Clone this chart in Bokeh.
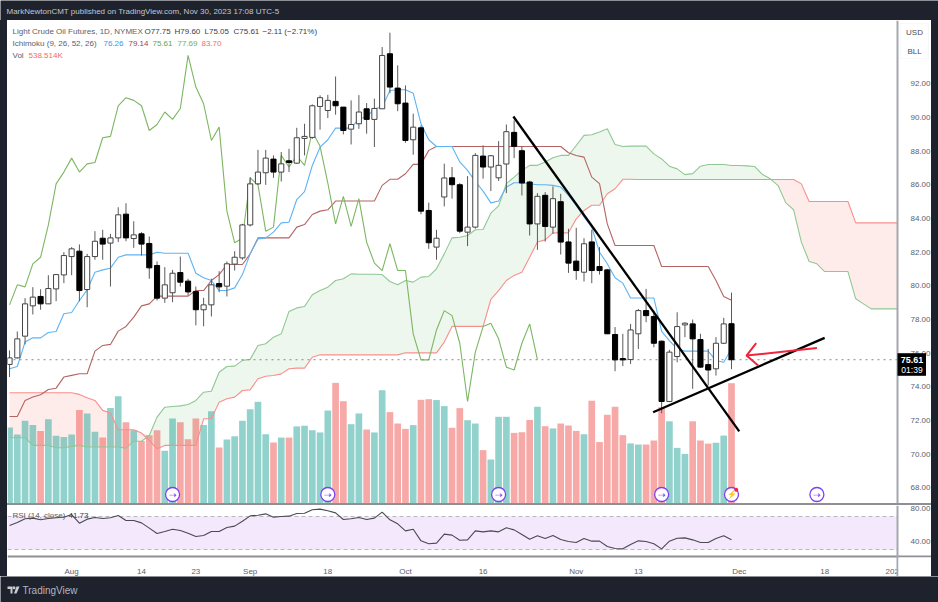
from bokeh.plotting import figure
from bokeh.layouts import column, row
from bokeh.models import (Range1d, FixedTicker, PrintfTickFormatter, Label,
                          BoxAnnotation, Div)
from bokeh.embed import file_html
from bokeh.resources import INLINE
import numpy as np

# ---------- data ----------
opens = [75.33,75.72,77.01,78.81,79.37,78.93,79.82,80.65,81.74,82.06,79.78,81.74,82.83,82.54,82.85,84.26,82.81,83.09,82.52,81.21,
         79.27,79.59,80.79,80.28,79.66,78.58,78.87,80.14,79.98,81.29,81.66,83.62,86.06,86.72,87.53,86.76,87.43,87.29,88.76,88.82,
         90.66,90.42,90.96,90.62,89.31,89.63,90.52,89.89,90.52,93.79,91.75,90.86,88.68,89.39,84.48,82.30,85.28,86.42,86.01,83.19,
         83.49,87.71,87.06,86.42,87.24,89.12,88.03,86.17,83.68,85.38,83.49,85.00,82.61,81.47,80.81,82.61,81.15,80.95,77.11,75.68,
         75.62,77.15,78.53,78.18,76.71,73.13,75.80,77.68,77.74,76.81,75.32,75.07,76.59,77.75]
highs = [76.16,77.29,79.27,79.92,79.80,80.63,80.67,82.00,82.30,82.46,81.90,83.25,83.33,83.09,84.67,84.91,83.84,83.19,82.93,81.45,
         81.11,80.95,81.74,80.42,79.96,79.29,80.42,80.87,81.45,82.06,83.68,86.46,88.08,88.08,87.75,87.95,88.14,89.39,89.63,90.78,
         91.32,91.35,92.44,90.62,91.02,91.33,90.86,91.12,94.19,95.04,93.10,91.91,90.23,89.53,84.94,83.33,87.26,87.06,86.10,86.52,
         87.89,88.35,87.77,88.60,89.59,89.83,88.29,86.24,85.51,85.57,85.91,85.47,83.39,83.45,82.83,83.33,82.30,81.01,77.55,77.15,
         77.74,78.63,79.82,78.53,76.75,76.20,78.43,77.84,78.00,77.15,76.25,76.95,78.10,79.60]
lows = [74.58,75.68,76.52,78.30,78.58,78.93,79.09,80.16,80.63,79.09,78.73,81.55,81.55,79.96,82.60,82.65,82.26,81.80,80.42,79.13,
        78.99,79.03,79.96,79.43,77.65,77.60,78.18,79.62,79.37,80.91,81.55,83.53,85.99,86.00,86.42,86.20,86.76,87.25,87.75,88.74,
        89.28,89.97,90.17,89.00,88.40,89.33,89.04,88.25,90.52,91.45,90.38,88.50,87.79,84.25,82.20,81.55,84.72,85.18,83.13,82.36,
        83.40,86.37,85.63,86.23,85.51,87.59,85.37,82.99,82.14,82.63,83.09,81.86,80.77,80.36,80.26,80.16,80.67,77.15,74.93,75.23,
        75.36,76.25,77.84,76.35,72.43,73.09,75.46,76.95,73.88,75.13,74.08,74.67,76.55,75.05]
closes = [75.72,76.85,78.93,79.33,78.93,79.84,80.67,81.80,82.20,79.72,81.74,82.65,82.48,82.85,84.22,82.85,83.03,82.48,81.07,79.27,
          80.06,80.75,80.22,79.64,78.58,78.87,80.06,79.94,81.31,81.70,83.62,86.06,86.76,87.59,86.76,87.25,87.33,88.80,88.88,90.70,
          91.18,91.02,90.70,89.23,89.59,90.33,89.89,90.54,93.69,91.81,90.82,88.64,89.43,84.44,82.56,82.83,86.41,86.01,83.25,83.49,
          87.75,87.06,87.73,87.16,89.16,88.29,86.11,83.68,85.32,83.53,85.18,82.60,81.35,80.91,82.50,80.91,80.91,77.15,75.60,75.60,
          77.38,78.53,78.23,76.59,73.13,76.06,77.58,77.78,76.85,75.17,75.00,76.59,77.74,75.61]
volumes = [340,309,370,351,325,377,303,298,309,418,403,321,295,427,480,364,328,280,306,328,
           236,380,364,288,380,351,413,251,286,301,370,422,455,310,273,295,295,345,348,328,
           318,416,540,458,355,403,331,318,507,409,358,334,351,464,467,463,436,339,427,373,
           358,239,197,388,388,316,319,374,433,346,336,358,349,325,310,460,275,397,433,306,
           269,264,264,282,431,368,249,222,368,282,268,272,304,538.5]
conversion = [75.07,75.21,76.66,76.91,76.91,77.23,77.29,78.34,78.42,79.13,79.76,80.81,80.95,81.05,81.70,81.84,81.84,81.84,81.84,82.00,
              81.94,81.94,81.94,81.94,80.75,80.48,80.32,79.72,79.72,79.88,80.67,81.90,82.79,82.85,83.19,83.74,83.78,85.13,85.60,87.15,
              88.24,88.68,89.37,89.37,89.37,89.93,90.03,90.52,90.62,91.61,91.65,91.65,91.45,89.63,88.68,88.28,88.28,88.28,87.36,86.86,
              86.20,85.63,84.93,85.04,85.87,86.13,86.13,86.07,86.01,86.01,85.97,85.87,85.37,84.78,84.09,83.49,82.00,81.31,80.48,80.16,
              79.28,79.28,79.28,79.28,77.30,76.75,76.25,76.12,76.12,76.12,76.12,75.56,75.46,76.26]
base = [72.24,72.24,73.19,73.39,73.53,73.84,73.92,74.58,74.68,74.78,74.78,76.12,76.46,76.52,77.31,77.59,78.14,78.81,78.93,79.39,
        79.39,79.39,79.39,79.39,79.72,79.72,80.32,80.67,81.27,81.27,81.27,81.90,82.85,82.85,82.85,82.85,82.85,83.49,83.64,84.24,
        84.44,84.52,85.04,85.04,85.04,85.04,85.04,85.04,85.97,86.33,86.33,86.66,87.22,87.22,88.05,88.28,88.28,88.28,88.28,88.28,
        88.28,88.28,88.28,88.28,88.28,88.28,88.28,88.28,88.28,88.28,88.28,88.28,87.91,87.75,87.65,86.46,86.07,83.68,82.40,82.40,
        82.40,82.40,82.40,82.40,81.15,81.15,81.15,81.15,81.15,81.15,81.15,80.32,79.37,79.14]
lagging = [78.87,80.06,79.94,81.31,81.70,83.62,86.06,86.76,87.59,86.76,87.25,87.33,88.80,88.88,90.70,91.18,91.02,90.70,89.23,89.59,
           90.33,89.89,90.54,93.69,91.81,90.82,88.64,89.43,84.44,82.56,82.83,86.41,86.01,83.25,83.49,87.75,87.06,87.73,87.16,89.16,
           88.29,86.11,83.68,85.32,83.53,85.18,82.60,81.35,80.91,82.50,80.91,80.91,77.15,75.60,75.60,77.38,78.53,78.23,76.59,73.13,
           76.06,77.58,77.78,76.85,75.17,75.00,76.59,77.74,75.61]
lead_a = [70.97,70.97,70.97,70.52,70.52,70.52,70.38,70.38,70.46,70.52,70.42,70.42,70.42,70.42,70.42,70.36,70.77,70.77,71.11,72.20,
          72.79,72.83,72.87,72.95,73.19,73.68,73.74,74.87,75.21,75.23,75.57,75.63,76.46,76.56,76.95,77.15,78.48,78.69,78.77,79.47,
          79.72,79.92,80.32,80.42,80.71,80.69,80.69,80.69,80.67,80.26,80.06,80.32,80.22,80.52,80.56,81.01,81.90,82.85,82.89,82.99,
          83.33,83.35,84.32,84.75,86.07,86.46,86.86,87.16,87.16,87.36,87.61,87.75,87.75,88.34,88.94,88.98,89.14,89.33,88.40,88.28,
          88.30,88.30,88.30,87.84,87.54,87.11,86.95,86.61,86.67,87.11,87.21,87.21,87.21,87.15,87.15,87.13,87.09,86.61,86.36,85.96,
          84.93,84.52,82.60,81.45,81.31,80.85,80.85,80.85,80.85,79.23,78.93,78.63,78.63,78.63,78.63,78.63]
lead_b = [73.65,73.65,73.65,73.65,73.65,73.65,73.65,73.65,73.65,73.55,73.35,73.19,72.60,72.44,71.45,71.45,71.45,71.25,70.81,70.32,
          70.52,70.52,70.52,70.52,70.52,72.10,72.10,73.09,73.29,73.39,73.78,73.82,74.48,74.63,74.67,74.77,75.07,75.11,75.11,75.76,
          75.90,75.90,75.90,75.90,75.90,75.90,75.90,75.90,75.90,75.90,75.90,76.02,76.02,76.02,76.02,76.02,76.66,77.59,77.59,77.59,
          77.59,77.59,79.19,79.72,80.32,80.62,80.81,81.70,82.60,82.73,83.15,83.15,83.15,83.98,84.48,84.79,84.79,85.47,85.77,86.33,
          86.33,86.32,86.32,86.32,86.32,86.32,86.32,86.32,86.32,86.32,86.32,86.32,86.32,86.32,86.32,86.32,86.32,86.32,86.32,86.32,
          86.32,86.32,86.06,85.01,85.01,85.01,85.01,85.01,85.01,83.74,83.74,83.74,83.74,83.74,83.74,83.74]
rsi = [59.1,62.7,67.2,68.0,66.0,67.6,68.4,69.2,72.4,61.9,66.8,68.8,67.6,68.4,71.2,65.2,65.2,62.3,55.9,49.4,
       51.8,54.6,53.0,49.8,45.8,47.0,51.8,51.8,56.7,58.3,64.3,70.8,71.6,73.2,69.2,70.0,70.4,73.6,74.0,78.1,
       78.9,76.9,74.4,66.4,67.2,68.8,66.4,68.0,75.3,66.0,61.1,52.6,54.6,40.5,36.9,37.7,48.6,47.4,41.3,41.7,
       52.6,51.4,52.6,51.4,56.3,53.8,48.2,42.5,46.6,43.3,47.0,42.1,39.7,38.5,43.3,40.1,40.1,33.6,31.2,30.8,
       36.1,40.5,39.7,36.9,30.8,40.1,43.7,44.1,41.7,38.5,38.5,43.3,46.6,41.73]

price_ticks = [68, 70, 72, 74, 76, 78, 80, 82, 84, 86, 88, 90, 92]
rsi_ticks = [40, 80]
rsi_bands = [30, 70]
date_ticks = [0, 9, 16, 23, 33, 43, 53, 65, 73, 86, 97, 106]
date_labels = ["Aug", "14", "23", "Sep", "18", "Oct", "16", "Nov", "13", "Dec", "18", "2024"]
event_idx = [13, 33, 55, 76, 96]
earnings_idx = [85]
down_line_x, down_line_y = [56.9, 86.0], [90.06, 71.35]
up_line_x, up_line_y = [74.9, 97.0], [72.49, 76.91]
arrow_x, arrow_y = [96.0, 86.93], [76.3, 75.86]
arrow_head_x, arrow_head_y = [88.18, 86.93, 88.44], [76.59, 75.86, 75.27]
last_price = 75.61
# -------------------------------------------------

W = 924
DARK = "#1e222d"
FONT = "Liberation Sans"
C_BLUE, C_BASE, C_LAG, C_A, C_B = "#5db4f5", "#b56464", "#7db662", "#8fc892", "#f98f8c"
TXT = "#5d606b"
SIZE = "8px"

idx = np.arange(-8, 86)
op, hi, lo, cl = map(np.array, (opens, highs, lows, closes))
up = cl >= op
fx = np.arange(-8, 108)
a, b = np.array(lead_a), np.array(lead_b)
top_ab = np.maximum(a, b)


def sx(px):  # page pixel -> bar index
    return 85 + (px - 731) / 7.763


def sy(py):  # page pixel -> price
    return 68 + (487.3 - py) * 0.05942


def ry(py):  # page pixel -> RSI value
    return 70 + (516 - py) / 0.825


SCALE_X = sx(897)
x_range = Range1d(sx(7), sx(931))
main = figure(width=W, height=483, output_backend="svg", toolbar_location=None,
              x_range=x_range, y_range=Range1d(sy(503), sy(20)),
              x_axis_location=None, y_axis_location="right",
              min_border=0, background_fill_color="white", border_fill_color="white", outline_line_color=None)
main.grid.visible = False
main.extra_y_ranges = {"vol": Range1d(0, 483 * 4.476)}


def style_y(ax, ticks):
    ax.fixed_location = SCALE_X
    ax.ticker = FixedTicker(ticks=ticks)
    ax.formatter = PrintfTickFormatter(format="%.2f")
    ax.major_tick_line_color = None
    ax.minor_tick_line_color = None
    ax.axis_line_color = "#a6a8ae"
    ax.axis_line_width = 2
    ax.major_label_text_font = FONT
    ax.major_label_text_font_size = SIZE
    ax.major_label_text_color = TXT
    ax.major_label_standoff = 7


style_y(main.yaxis[0], price_ticks)

# cloud
main.varea(fx, y1=a, y2=top_ab, fill_color="#f44336", fill_alpha=0.1)
main.varea(fx, y1=b, y2=top_ab, fill_color="#4caf50", fill_alpha=0.1)

# volume
vol_col = ["#26a69a" if u else "#ef5350" for u in up]
main.vbar(idx, top=volumes, bottom=0, width=0.86, y_range_name="vol",
          fill_color=vol_col, fill_alpha=0.5, line_color=None)

# ichimoku
main.line(fx, a, line_color=C_A, line_width=1.1)
main.line(fx, b, line_color=C_B, line_width=1.1)
main.line(idx, base, line_color=C_BASE, line_width=1.1)
main.line(np.arange(-8, 61), lagging, line_color=C_LAG, line_width=1.1)
main.line(idx, conversion, line_color=C_BLUE, line_width=1.1)

# last price dotted line
main.line([sx(7), SCALE_X], [last_price, last_price], line_color="#8a8a8a", line_dash="dotted", line_width=1)

# candles
main.segment(idx, hi, idx, lo, line_color="#5a5a5a", line_width=1)
body_fill = ["white" if u else "black" for u in up]
body_line = ["#444444" if u else "black" for u in up]
main.vbar(idx, top=np.maximum(op, cl), bottom=np.minimum(op, cl), width=0.66,
          fill_color=body_fill, line_color=body_line, line_width=1)

# drawn trend lines and arrow
main.line(down_line_x, down_line_y, line_color="black", line_width=2.3)
main.line(up_line_x, up_line_y, line_color="black", line_width=2.3)
main.line(arrow_x, arrow_y, line_color="#f0243c", line_width=2)
main.line(arrow_head_x, arrow_head_y, line_color="#f0243c", line_width=2)

# event icons
ev_y = sy(494)
main.scatter(event_idx + earnings_idx, [ev_y] * 6, size=14, marker="circle",
             fill_color="white", line_color="#7e3ff2", line_width=1.3)
main.text(event_idx, [ev_y] * 5, text=["\u21e2"] * 5, text_font="DejaVu Sans", text_font_size="9px",
          text_color="#7e3ff2", text_align="center", text_baseline="middle")
main.text(earnings_idx, [ev_y], text=["\u26a1"], text_font="DejaVu Sans", text_font_size="8px",
          text_color="#7e3ff2", text_align="center", text_baseline="middle")
main.scatter([sx(735.7)], [sy(489.3)], size=4, marker="circle", fill_color="#f0243c", line_color=None)

# price scale background, hides what runs past the axis
main.quad(left=SCALE_X, right=sx(931), bottom=sy(503), top=sy(20), fill_color="white", line_color=None)


def lab(fig, x, y, text, color=TXT, size=SIZE, style="normal", align="left"):
    fig.add_layout(Label(x=x, y=y, text=text, text_color=color, text_font=FONT, text_font_size=size,
                         text_font_style=style, text_baseline="middle", text_align=align, level="overlay"))


# currency box
main.add_layout(BoxAnnotation(left=sx(900), right=sx(928), top=sy(23), bottom=sy(58), fill_color="white",
                              fill_alpha=1, line_color="#e6e7ea", line_width=1, level="overlay"))
# last price badge
main.add_layout(BoxAnnotation(left=sx(897), right=sx(925.5), top=sy(352.7), bottom=sy(375.3), fill_color="black",
                              fill_alpha=1, line_color=None, level="overlay"))

# legends
for px_x, t, c in [(12, "Light Crude Oil Futures, 1D, NYMEX", TXT), (144, "O77.75", "#3a3d46"),
                   (174, "H79.60", "#3a3d46"), (204, "L75.05", "#3a3d46"), (233, "C75.61", "#3a3d46"),
                   (262, "\u22122.11 (\u22122.71%)", "#3a3d46")]:
    lab(main, sx(px_x), sy(30.5), t, c)
for px_x, t, c in [(12, "Ichimoku (9, 26, 52, 26)", TXT), (103, "76.26", "#2f9bf0"), (128, "79.14", "#a83e3e"),
                   (152, "75.61", "#5fa83e"), (177, "77.69", "#60b465"), (201, "83.70", "#f46a67")]:
    lab(main, sx(px_x), sy(43), t, c)
lab(main, sx(12), sy(55), "Vol", TXT)
lab(main, sx(28), sy(55), "538.514K", "#f46a67")
lab(main, sx(914), sy(32), "USD", "#4a4d57", align="center")
lab(main, sx(914), sy(50.5), "BLL", "#4a4d57", align="center")
lab(main, sx(911.5), sy(359), "75.61", "white", "9px", "bold", "center")
lab(main, sx(911.5), sy(369), "01:39", "white", "8.5px", "normal", "center")

# RSI pane with the date axis
rs = figure(width=W, height=71, output_backend="svg", toolbar_location=None,
            x_range=x_range, y_range=Range1d(ry(576), ry(505)),
            x_axis_location="below", y_axis_location="right",
            min_border=0, background_fill_color="white", border_fill_color="white", outline_line_color=None)
rs.grid.visible = False
style_y(rs.yaxis[0], rsi_ticks)
xa = rs.xaxis[0]
xa.fixed_location = ry(555.5)
xa.ticker = FixedTicker(ticks=date_ticks)
xa.major_label_overrides = {t: l for t, l in zip(date_ticks, date_labels)}
xa.major_tick_line_color = None
xa.minor_tick_line_color = None
xa.axis_line_color = "#8f9096"
xa.axis_line_width = 2
xa.major_label_text_font = FONT
xa.major_label_text_font_size = SIZE
xa.major_label_text_color = TXT
xa.major_label_standoff = 5
rs.quad(left=sx(7), right=SCALE_X, bottom=rsi_bands[0], top=rsi_bands[1], fill_color="#f4e8fd", line_color=None)
for lvl in rsi_bands:
    rs.line([sx(7), SCALE_X], [lvl, lvl], line_color="#b9b7bd", line_dash=[4, 3], line_width=1)
rs.line(idx, rsi, line_color="#4a4a50", line_width=1.1)
lab(rs, sx(12), ry(515), "RSI (14, close)", TXT)
lab(rs, sx(68), ry(515), "41.73", "#3a3d46")
# the price scale covers the end of the date axis
rs.add_layout(BoxAnnotation(left=sx(898), right=sx(931), top=ry(557), bottom=ry(576), fill_color="white", fill_alpha=1,
                            line_color=None, level="overlay"))

sep = Div(text="", width=W, height=2, margin=0, styles={"background-color": "#8f9096"})


def band(height):
    f = figure(width=938, height=height, output_backend="svg", toolbar_location=None,
               x_range=Range1d(0, 938), y_range=Range1d(height, 0),
               x_axis_location=None, y_axis_location=None,
               min_border=0, background_fill_color=DARK, border_fill_color=DARK, outline_line_color=None)
    f.grid.visible = False
    return f


head = band(20)
lab(head, 6, 10.5, "MarkNewtonCMT published on TradingView.com, Nov 30, 2023 17:08 UTC-5", "#c4c7d0", SIZE)

foot = band(26)
# TradingView logo
foot.patch([7, 12, 12, 10, 10, 7], [10, 10, 17, 17, 12.5, 12.5], fill_color="#c8cbd3", line_color=None)
foot.scatter([13.5], [11.2], size=3, marker="circle", fill_color="#c8cbd3", line_color=None)
foot.patch([16, 19, 16, 13.5], [10, 10, 17, 17], fill_color="#c8cbd3", line_color=None)
lab(foot, 22, 13.5, "TradingView", "#b2b5be", "10px")

side = dict(width=7, height=556, margin=0, styles={"background-color": DARK})
middle = row(Div(text="", **side), column(main, sep, rs, spacing=0), Div(text="", **side), spacing=0)
page = column(head, middle, foot, spacing=0)
open("out.html", "w").write(file_html(page, INLINE))
